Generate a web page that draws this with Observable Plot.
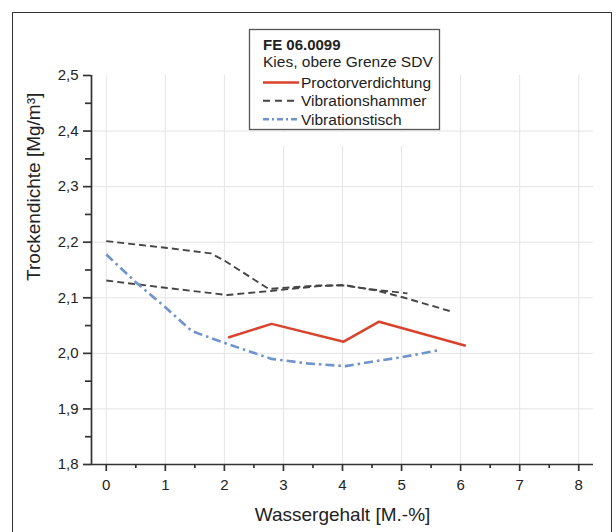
<!DOCTYPE html>
<html>
<head>
<meta charset="utf-8">
<script src="https://cdn.jsdelivr.net/npm/d3@7"></script>
<script src="https://cdn.jsdelivr.net/npm/@observablehq/plot@0.6"></script>
<style>
  html, body { margin: 0; padding: 0; background: #fff; }
  #wrap { position: relative; width: 616px; height: 532px; overflow: hidden; font-family: "Liberation Sans", Arial, sans-serif; }
  #frame { position: absolute; left: 12px; top: 12px; width: 600px; height: 540px; border: 1.5px solid #333; box-sizing: border-box; }
  #legend { position: absolute; left: 0; top: 0; }
</style>
</head>
<body>
<div id="wrap">
  <div id="chart"></div>
  <div id="frame"></div>
  <svg id="legend" width="616" height="160"></svg>
</div>
<script>
// ---- data ----
const xTicks = [0, 1, 2, 3, 4, 5, 6, 7, 8];
const xMinorTicks = [0.5, 1.5, 2.5, 3.5, 4.5, 5.5, 6.5, 7.5];
const yTicks = [1.8, 1.9, 2.0, 2.1, 2.2, 2.3, 2.4, 2.5];
const yMinorTicks = [1.85, 1.95, 2.05, 2.15, 2.25, 2.35, 2.45];
const yGridValues = [1.9, 2.0, 2.1, 2.2, 2.3, 2.4];
const xDomain = [-0.25, 8.25];
const yDomain = [1.8, 2.5];

const proctorX = [2.08, 2.80, 4.02, 4.62, 6.07];
const proctorY = [2.029, 2.053, 2.021, 2.057, 2.014];

const hammer1X = [0, 1.0, 1.77, 2.0, 2.75, 3.6, 4.02, 4.58, 5.10];
const hammer1Y = [2.202, 2.190, 2.180, 2.167, 2.116, 2.122, 2.122, 2.114, 2.108];
const hammer2X = [0, 1.0, 2.05, 2.75, 3.6, 4.02, 4.58, 5.05, 5.82];
const hammer2Y = [2.131, 2.118, 2.105, 2.112, 2.121, 2.123, 2.113, 2.100, 2.076];

const tischX = [0, 0.5, 1.0, 1.45, 2.05, 2.8, 3.4, 4.05, 4.5, 5.0, 5.6];
const tischY = [2.178, 2.128, 2.083, 2.040, 2.017, 1.990, 1.982, 1.977, 1.985, 1.993, 2.005];

const legendTitle = "FE 06.0099";
const legendSubtitle = "Kies, obere Grenze SDV";
const seriesNames = ["Proctorverdichtung", "Vibrationshammer", "Vibrationstisch"];
const xLabel = "Wassergehalt [M.-%]";
const yLabel = "Trockendichte [Mg/m³]";

// ---- styles ----
const styles = [
  {stroke: "#d9432d", width: 2.5, dash: null},
  {stroke: "#454545", width: 1.9, dash: "7,4"},
  {stroke: "#6f93cb", width: 2.6, dash: "9,4,2.5,4"}
];

const toRows = (xs, ys, run) => xs.map((x, i) => ({x, y: ys[i], run}));
const proctor = toRows(proctorX, proctorY, "p");
const hammer = [...toRows(hammer1X, hammer1Y, "h1"), ...toRows(hammer2X, hammer2Y, "h2")];
const tisch = toRows(tischX, tischY, "t");

const fmt = d => d.toFixed(1).replace(".", ",");

const chart = Plot.plot({
  width: 616,
  height: 532,
  marginLeft: 91,
  marginRight: 23,
  marginTop: 75,
  marginBottom: 68,
  style: {fontFamily: "'Liberation Sans', Arial, sans-serif", background: "transparent", color: "#222"},
  x: {domain: xDomain, axis: null},
  y: {domain: yDomain, axis: null},
  marks: [
    Plot.ruleY(yGridValues, {stroke: "#e4e4e4", strokeWidth: 1}),
    Plot.ruleX(xTicks, {stroke: "#e4e4e4", strokeWidth: 1}),
    Plot.line(hammer, {x: "x", y: "y", z: "run", stroke: styles[1].stroke, strokeWidth: styles[1].width, strokeDasharray: styles[1].dash, strokeLinecap: "butt"}),
    Plot.line(tisch, {x: "x", y: "y", stroke: styles[2].stroke, strokeWidth: styles[2].width, strokeDasharray: styles[2].dash, strokeLinecap: "butt"}),
    Plot.line(proctor, {x: "x", y: "y", stroke: styles[0].stroke, strokeWidth: styles[0].width}),
    Plot.ruleX([xDomain[0]], {stroke: "#333", strokeWidth: 1.7}),
    Plot.ruleY([yDomain[0]], {stroke: "#333", strokeWidth: 1.7}),
    Plot.axisX({ticks: xTicks, tickSize: 7, tickPadding: 8, tickFormat: d => String(d), fontSize: 15, stroke: "#333", strokeWidth: 1.7, fill: "#222", label: null}),
    Plot.axisX({ticks: xMinorTicks, tickSize: 4, tickFormat: () => "", stroke: "#333", strokeWidth: 1.7, label: null}),
    Plot.axisY({ticks: yTicks, tickSize: 8, tickPadding: 5, tickFormat: fmt, fontSize: 15, stroke: "#333", strokeWidth: 1.7, fill: "#222", label: null}),
    Plot.axisY({ticks: yMinorTicks, tickSize: 6, tickFormat: () => "", stroke: "#333", strokeWidth: 1.7, label: null}),
    Plot.text([xLabel], {frameAnchor: "bottom", lineAnchor: "middle", dy: 50, fontSize: 19, fill: "#222"}),
    Plot.text([yLabel], {frameAnchor: "left", lineAnchor: "middle", rotate: -90, dx: -58, dy: 11, fontSize: 19, fill: "#222"})
  ]
});
document.getElementById("chart").appendChild(chart);

// ---- legend ----
const lg = d3.select("#legend");
// blank strip below the legend box where the grid is interrupted in the original
lg.append("rect").attr("x", 250).attr("y", 132).attr("width", 189).attr("height", 14).attr("fill", "#fff");
lg.append("rect").attr("x", 249.5).attr("y", 29.5).attr("width", 190).attr("height", 100)
  .attr("fill", "#fff").attr("stroke", "#555").attr("stroke-width", 1.3);
const fontFam = "'Liberation Sans', Arial, sans-serif";
lg.append("text").attr("x", 263).attr("y", 49.5).attr("font-family", fontFam).attr("font-size", 15)
  .attr("font-weight", "bold").attr("fill", "#222").text(legendTitle);
lg.append("text").attr("x", 263).attr("y", 67).attr("font-family", fontFam).attr("font-size", 15.5)
  .attr("fill", "#222").text(legendSubtitle);
const rowY = [82.5, 100.8, 119.2];
seriesNames.forEach((name, i) => {
  const s = styles[i];
  lg.append("line").attr("x1", 263).attr("x2", 299).attr("y1", rowY[i]).attr("y2", rowY[i])
    .attr("stroke", s.stroke).attr("stroke-width", s.width)
    .attr("stroke-dasharray", i === 1 ? "7,5" : (i === 2 ? "6,3,2,3" : null));
  lg.append("text").attr("x", 301).attr("y", rowY[i] + 5.4).attr("font-family", fontFam).attr("font-size", 15.5)
    .attr("fill", "#222").text(name);
});
</script>
</body>
</html>
